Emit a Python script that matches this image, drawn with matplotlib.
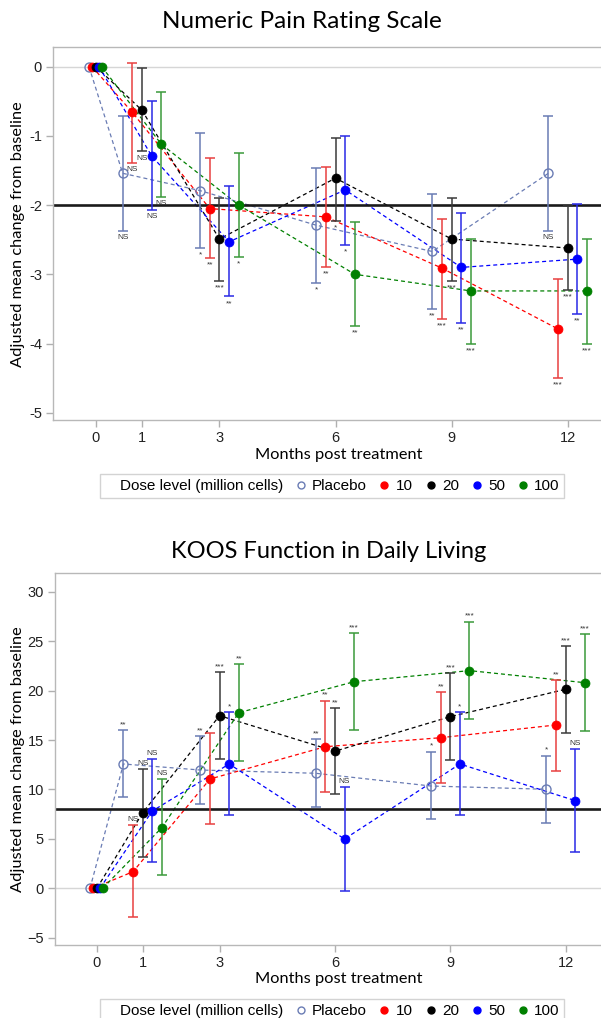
import numpy as np
import matplotlib
matplotlib.use('Agg')
import matplotlib.pyplot as plt
from matplotlib.lines import Line2D

# ---------------- data ----------------
months = [0, 1, 3, 6, 9, 12]
month_labels = ['0', '1', '3', '6', '9', '12']
groups = ['Placebo', '10', '20', '50', '100']

# Numeric Pain Rating Scale (rows: Placebo, 10, 20, 50, 100)
npr_mean = [
    [0, -1.54, -1.79, -2.29, -2.67, -1.54],
    [0, -0.66, -2.05, -2.17, -2.91, -3.79],
    [0, -0.63, -2.49, -1.61, -2.49, -2.62],
    [0, -1.29, -2.53, -1.78, -2.90, -2.78],
    [0, -1.12, -2.00, -3.00, -3.24, -3.24],
]
npr_lower = [
    [np.nan, -2.37, -2.62, -3.12, -3.50, -2.37],
    [np.nan, -1.39, -2.76, -2.89, -3.64, -4.50],
    [np.nan, -1.22, -3.09, -2.23, -3.09, -3.22],
    [np.nan, -2.07, -3.32, -2.57, -3.70, -3.57],
    [np.nan, -1.88, -2.75, -3.75, -4.00, -4.00],
]
npr_upper = [
    [np.nan, -0.71, -0.96, -1.46, -1.84, -0.71],
    [np.nan, 0.05, -1.32, -1.45, -2.20, -3.07],
    [np.nan, -0.02, -1.90, -1.03, -1.90, -2.01],
    [np.nan, -0.49, -1.73, -1.00, -2.12, -1.99],
    [np.nan, -0.36, -1.24, -2.24, -2.49, -2.49],
]
npr_sig = [
    ['', 'NS', '*', '*', '**', 'NS'],
    ['', 'NS', '**', '**', '***', '***'],
    ['', 'NS', '***', '*', '***', '***'],
    ['', 'NS', '**', '*', '**', '**'],
    ['', 'NS', '*', '**', '***', '***'],
]
npr_threshold = -2

# KOOS Function in Daily Living
koos_mean = [
    [0, 12.58, 11.97, 11.64, 10.35, 10.02],
    [0, 1.68, 11.06, 14.33, 15.24, 16.53],
    [0, 7.65, 17.47, 13.87, 17.37, 20.14],
    [0, 7.82, 12.58, 4.99, 12.58, 8.87],
    [0, 6.14, 17.77, 20.91, 22.03, 20.81],
]
koos_lower = [
    [np.nan, 9.21, 8.53, 8.20, 6.98, 6.58],
    [np.nan, -2.87, 6.48, 9.72, 10.63, 11.87],
    [np.nan, 3.20, 13.06, 9.54, 12.99, 15.75],
    [np.nan, 2.63, 7.42, -0.24, 7.39, 3.64],
    [np.nan, 1.31, 12.88, 16.02, 17.17, 15.92],
]
koos_upper = [
    [np.nan, 16.02, 15.41, 15.08, 13.83, 13.43],
    [np.nan, 6.41, 15.75, 18.99, 19.84, 21.08],
    [np.nan, 12.04, 21.86, 18.22, 21.76, 24.52],
    [np.nan, 13.09, 17.81, 10.22, 17.81, 14.10],
    [np.nan, 11.06, 22.70, 25.81, 26.98, 25.71],
]
koos_sig = [
    ['', '**', '**', '**', '*', '*'],
    ['', 'NS', '', '**', '**', '**'],
    ['', 'NS', '***', '**', '***', '***'],
    ['', 'NS', '*', 'NS', '*', 'NS'],
    ['', 'NS', '**', '***', '***', '***'],
]
koos_threshold = 8

# ---------------- style ----------------
axis_pos = [-0.19, 1, 3, 6, 9, 12]          # where each visit sits on the axis
group_offset = [-0.5, -0.25, 0, 0.25, 0.5]
zero_offset = [-0.18, -0.1, 0, 0.08, 0.15]
marker_colors = ['#6a7cb4', '#ff0000', '#000000', '#0000ff', '#008000']
bar_colors = ['#6a7cb4', '#e84040', '#3a3a3a', '#2a2ae6', '#3a9a3a']

W, H = 601, 1018
fig = plt.figure(figsize=(W / 100, H / 100), dpi=100)

TICKFONT = 'Liberation Sans'
LABELFONT = 'Lato'


def px_axes(left, top, right, bottom):
    return fig.add_axes([left / W, 1 - bottom / H, (right - left) / W, (bottom - top) / H])


def draw(ax, mean, lower, upper, sig, thr, below):
    ax.axhline(0, color='#d6d6d6', lw=1.0, zorder=0)
    ax.axhline(thr, color='#1a1a1a', lw=1.9, zorder=2.5)
    for g in range(len(groups)):
        xs = [axis_pos[i] + (zero_offset[g] if i == 0 else group_offset[g])
              for i in range(len(months))]
        ax.plot(xs, mean[g], ls=(0, (3.2, 2.4)), color=marker_colors[g], lw=0.9, zorder=2)
        m = np.array(mean[g], float)
        lo = np.array(lower[g], float)
        hi = np.array(upper[g], float)
        ax.errorbar(xs[1:], m[1:], yerr=[m[1:] - lo[1:], hi[1:] - m[1:]], fmt='none',
                    ecolor=bar_colors[g], elinewidth=1.1, capsize=3.6, capthick=1.1, zorder=3)
        if g == 0:
            ax.plot(xs, mean[g], ls='none', marker='o', ms=6.5, mfc='none',
                    mec=marker_colors[g], mew=1.0, zorder=4 + g * 0.1)
        else:
            ax.plot(xs, mean[g], ls='none', marker='o', ms=6.5, mfc=marker_colors[g],
                    mec=marker_colors[g], mew=0.5, zorder=4 + g * 0.1)
        for i in range(1, len(months)):
            if not sig[g][i]:
                continue
            if below:
                ax.annotate(sig[g][i], (xs[i], lo[i]), xytext=(0, -2.5), textcoords='offset points',
                            ha='center', va='top', fontsize=6, color='#333333',
                            family=TICKFONT, zorder=5)
            else:
                ax.annotate(sig[g][i], (xs[i], hi[i]), xytext=(0, 1.5), textcoords='offset points',
                            ha='center', va='bottom', fontsize=6, color='#333333',
                            family=TICKFONT, zorder=5)
    ax.set_xticks(axis_pos)
    ax.set_xticklabels(month_labels)
    for side in ['left', 'bottom', 'top']:
        ax.spines[side].set_color('#b8b8b8')
        ax.spines[side].set_linewidth(1.0)
    ax.spines['right'].set_visible(False)
    ax.tick_params(axis='both', colors='#b0b0b0', labelcolor='#222222', length=5, width=1,
                   labelsize=10.5, pad=3)
    for t in ax.get_xticklabels() + ax.get_yticklabels():
        t.set_family(TICKFONT)
    ax.set_facecolor('white')


def legend(y_center_px):
    handles = [Line2D([], [], ls='none')]
    labels = ['Dose level (million cells)']
    for g in range(len(groups)):
        if g == 0:
            h = Line2D([], [], ls='none', marker='o', ms=5, mfc='none', mec=marker_colors[g], mew=1)
        else:
            h = Line2D([], [], ls='none', marker='o', ms=5, mfc=marker_colors[g], mec=marker_colors[g])
        handles.append(h)
        labels.append(groups[g])
    leg = fig.legend(handles, labels, loc='center', bbox_to_anchor=(332 / W, 1 - y_center_px / H),
                     ncol=6, frameon=True, fancybox=False, handlelength=0.5, handletextpad=0.5,
                     columnspacing=0.9, borderpad=0.32, borderaxespad=0,
                     prop={'family': TICKFONT, 'size': 11})
    leg.get_frame().set_edgecolor('#c8c8c8')
    leg.get_frame().set_linewidth(1.0)


# ---------------- top chart ----------------
ax1 = px_axes(53, 47, 601, 420)
draw(ax1, npr_mean, npr_lower, npr_upper, npr_sig, npr_threshold, below=True)
ax1.set_xlim(-1.30, 12.86)
ax1.set_ylim(-5.105, 0.285)
ax1.set_yticks([-5, -4, -3, -2, -1, 0])
ax1.set_yticklabels(['-5', '-4', '-3', '-2', '-1', '0'])
for t in ax1.get_yticklabels():
    t.set_family(TICKFONT)
fig.text(302 / W, 1 - 21 / H, 'Numeric Pain Rating Scale', ha='center', va='center',
         fontsize=17.5, family=LABELFONT)
fig.text(18.5 / W, 1 - 234 / H, 'Adjusted mean change from baseline', rotation=90,
         ha='center', va='center', fontsize=11.8, family=LABELFONT)
fig.text(339 / W, 1 - 455 / H, 'Months post treatment', ha='center', va='center',
         fontsize=11.8, family=LABELFONT)
legend(486)

# ---------------- bottom chart ----------------
ax2 = px_axes(55, 573.3, 601, 945)
draw(ax2, koos_mean, koos_lower, koos_upper, koos_sig, koos_threshold, below=False)
ax2.set_xlim(-1.28, 12.92)
ax2.set_ylim(-5.74, 31.88)
ax2.set_yticks([-5, 0, 5, 10, 15, 20, 25, 30])
for t in ax2.get_yticklabels():
    t.set_family(TICKFONT)
fig.text(329 / W, 1 - 551 / H, 'KOOS Function in Daily Living', ha='center', va='center',
         fontsize=17, family=LABELFONT)
fig.text(18.5 / W, 1 - 759 / H, 'Adjusted mean change from baseline', rotation=90,
         ha='center', va='center', fontsize=11.8, family=LABELFONT)
fig.text(339 / W, 1 - 979 / H, 'Months post treatment', ha='center', va='center',
         fontsize=11.8, family=LABELFONT)
legend(1011)

fig.savefig('out.png', dpi=100, facecolor='white')
